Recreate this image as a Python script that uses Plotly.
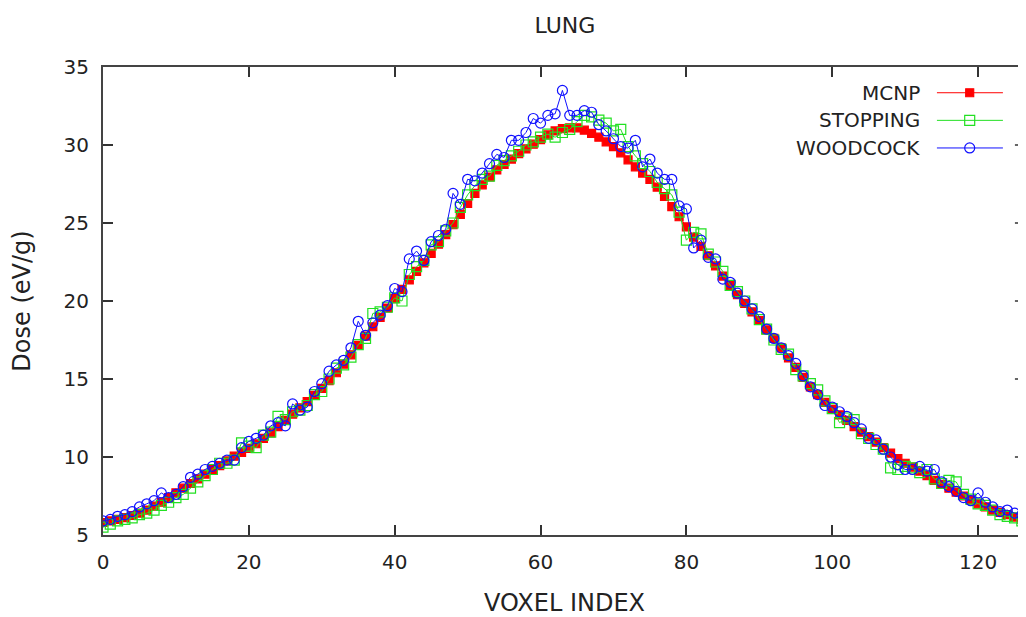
import plotly.graph_objects as go

voxel_index = list(range(127))

mcnp = [5.80, 5.90, 6.00, 6.12, 6.25, 6.40, 6.60, 6.85, 7.10, 7.40,
        7.70, 8.00, 8.30, 8.60, 8.90, 9.20, 9.45, 9.75, 10.05, 10.30,
        10.55, 10.85, 11.20, 11.55, 11.95, 12.35, 12.75, 13.15, 13.55, 13.95,
        14.40, 14.90, 15.40, 15.95, 16.55, 17.15, 17.75, 18.35, 18.95, 19.55,
        20.15, 20.75, 21.35, 21.90, 22.45, 23.05, 23.65, 24.25, 24.90, 25.55,
        26.25, 26.90, 27.45, 27.95, 28.40, 28.75, 29.10, 29.45, 29.75, 30.05,
        30.35, 30.65, 30.90, 31.05, 31.10, 31.10, 30.95, 30.75, 30.50, 30.20,
        29.90, 29.50, 29.05, 28.60, 28.20, 27.80, 27.30, 26.70, 26.05, 25.40,
        24.75, 24.10, 23.50, 22.90, 22.25, 21.60, 21.00, 20.40, 19.85, 19.30,
        18.75, 18.15, 17.60, 17.00, 16.35, 15.75, 15.10, 14.50, 14.00, 13.50,
        13.05, 12.70, 12.35, 11.95, 11.60, 11.30, 10.95, 10.60, 10.25, 9.90,
        9.60, 9.35, 9.10, 8.80, 8.50, 8.25, 8.00, 7.75, 7.50, 7.25,
        7.00, 6.80, 6.60, 6.45, 6.30, 6.15, 6.00]

stopping = [5.5, 5.7, 5.9, 6.0, 6.1, 6.3, 6.4, 6.6, 6.9, 7.1,
            7.4, 7.6, 8.0, 8.4, 8.8, 9.2, 9.6, 9.6, 9.8, 10.9,
            10.7, 10.6, 11.4, 11.6, 12.6, 12.4, 12.9, 13.0, 13.3, 14.0,
            14.2, 15.0, 15.7, 15.9, 16.4, 17.2, 17.6, 19.2, 19.3, 19.6,
            20.2, 20.0, 21.7, 22.2, 22.6, 23.6, 23.8, 24.5, 25.0, 26.0,
            26.8, 27.4, 27.8, 28.0, 28.7, 29.0, 29.3, 29.6, 30.0, 30.2,
            30.5, 30.7, 30.5, 30.8, 31.0, 31.5, 31.9, 31.8, 31.6, 31.4,
            30.9, 31.0, 29.9, 29.3, 28.8, 28.3, 27.6, 27.2, 26.8, 25.7,
            23.9, 24.4, 24.3, 23.0, 22.5, 21.9, 21.0, 20.6, 20.0, 19.5,
            18.8, 18.2, 17.5, 16.9, 16.6, 15.6, 15.2, 14.7, 14.3, 13.6,
            13.1, 12.2, 12.5, 12.4, 11.5, 11.2, 10.8, 10.5, 9.3, 9.2,
            9.4, 9.3, 9.0, 9.2, 8.6, 8.3, 8.5, 8.4, 7.6, 7.3,
            7.0, 6.9, 6.6, 6.3, 6.2, 6.1, 5.9]

woodcock = [5.9, 6.0, 6.2, 6.3, 6.5, 6.8, 7.0, 7.2, 7.7, 7.4,
            7.6, 8.1, 8.7, 8.9, 9.2, 9.4, 9.6, 9.8, 9.8, 10.6,
            11.0, 11.2, 11.4, 12.0, 12.2, 12.0, 13.4, 13.0, 13.2, 14.2,
            14.7, 15.5, 15.9, 16.2, 17.0, 18.7, 17.8, 18.6, 19.1, 19.7,
            20.8, 20.6, 22.7, 23.2, 22.6, 23.8, 24.2, 24.6, 26.9, 26.2,
            27.8, 27.7, 28.2, 28.8, 29.4, 29.2, 30.3, 30.3, 30.8, 31.7,
            31.4, 31.9, 32.0, 33.5, 31.9, 31.9, 32.2, 32.1, 31.3, 30.9,
            30.4, 29.9, 29.8, 30.3, 28.6, 29.1, 28.2, 27.8, 27.8, 26.1,
            25.9, 23.4, 23.9, 22.8, 22.7, 21.4, 21.2, 20.5, 20.0, 19.5,
            19.0, 18.2, 17.6, 17.0, 16.5, 16.0, 15.2, 14.5, 14.0, 13.3,
            13.2, 12.9, 12.6, 12.2, 11.8, 11.2, 11.1, 10.5, 10.0, 9.5,
            9.2, 9.2, 9.4, 9.1, 9.2, 8.4, 8.1, 7.8, 7.4, 7.2,
            7.7, 7.1, 6.8, 6.5, 6.6, 6.4, 6.3]

x_ticks = [0, 20, 40, 60, 80, 100, 120]
y_ticks = [5, 10, 15, 20, 25, 30, 35]

series = [
    ("MCNP", mcnp, "#ff0000", "square", 8),
    ("STOPPING", stopping, "#22e022", "square-open", 10),
    ("WOODCOCK", woodcock, "#1010ff", "circle-open", 10),
]

fig = go.Figure()
for name, vals, col, sym, size in series:
    fig.add_trace(go.Scatter(
        x=voxel_index, y=vals, mode="lines+markers", name=name,
        line=dict(color=col, width=1),
        marker=dict(symbol=sym, size=size, color=col, line=dict(color=col, width=1.2)),
        showlegend=False,
    ))

# gnuplot-style key: text right-aligned, sample line + marker on its right
key_rows = [0.945, 0.886, 0.827]
for (name, vals, col, sym, size), ky in zip(series, key_rows):
    fig.add_trace(go.Scatter(
        x=[0.9035, 0.975], y=[ky, ky], xaxis="x2", yaxis="y2",
        mode="lines", line=dict(color=col, width=1),
        showlegend=False, hoverinfo="skip",
    ))
    fig.add_trace(go.Scatter(
        x=[0.939], y=[ky], xaxis="x2", yaxis="y2", mode="markers",
        marker=dict(symbol=sym, size=size, color=col, line=dict(color=col, width=1.2)),
        showlegend=False, hoverinfo="skip",
    ))
    fig.add_annotation(x=0.887, y=ky, xref="x2", yref="y2", text=name,
                       showarrow=False, xanchor="right", yanchor="middle",
                       font=dict(size=20, color="#222222", family="DejaVu Sans"))

# mirrored ticks on the (cropped) right border
for yt in y_ticks[1:-1]:
    fig.add_shape(type="line", xref="paper", yref="y", x0=0.988, x1=1.0, y0=yt, y1=yt,
                  line=dict(color="#333333", width=1.5))

axis_common = dict(
    showgrid=False, zeroline=False, showline=True, linecolor="#444444", linewidth=2,
    ticks="inside", ticklen=10, tickwidth=1.5, tickcolor="#333333", automargin=False,
    tickfont=dict(size=20, color="#222222", family="DejaVu Sans"),
)

# the page body has an 8px default margin, so the figure is 8px smaller
W, H = 1018, 609
fig.update_layout(
    width=W, height=H,
    margin=dict(l=95, r=0, t=59, b=82, autoexpand=False),
    plot_bgcolor="white", paper_bgcolor="white",
    font=dict(family="DejaVu Sans", size=20, color="#222222"),
    title=dict(text="LUNG", x=(565 - 8) / W, xanchor="center", xref="container",
               y=1 - 17 / H, yanchor="middle", yref="container", automargin=False,
               font=dict(size=22, color="#222222")),
    xaxis=dict(range=[0, 126.57], tickvals=x_ticks, mirror="ticks",
               title=dict(text="VOXEL INDEX", standoff=24), ticklabelstandoff=8,
               **axis_common),
    yaxis=dict(range=[5, 35], tickvals=y_ticks, mirror=False,
               title=dict(text="Dose (eV/g)", standoff=29), ticklabelstandoff=8,
               **axis_common),
    xaxis2=dict(overlaying="x", range=[0, 1], visible=False),
    yaxis2=dict(overlaying="y", range=[0, 1], visible=False),
)

fig.write_html("out.html")
